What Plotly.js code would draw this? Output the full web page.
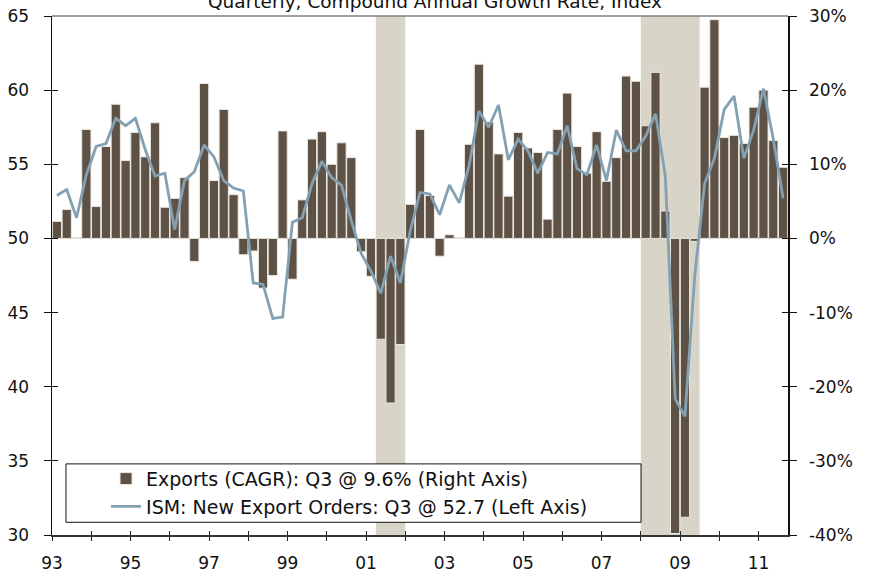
<!DOCTYPE html>
<html>
<head>
<meta charset="utf-8">
<script src="https://cdn.plot.ly/plotly-3.0.1.min.js"></script>
<style>
  html, body { margin: 0; padding: 0; background: #fff; }
  #chart { width: 870px; height: 574px; }
</style>
</head>
<body>
<div id="chart"></div>
<script>
"use strict";

// quarterly, 1993 Q1 .. 2011 Q3
const startYear = 1993;

const exportsCagr = [
    2.3, 3.9, 0.1, 14.7,
    4.3, 12.4, 18.1, 10.5,
    14.3, 11.0, 15.6, 4.2,
    5.4, 8.2, -3.1, 20.9,
    7.8, 17.4, 5.9, -2.2,
    -1.7, -6.7, -5.0, 14.5,
    -5.5, 5.2, 13.4, 14.4,
    10.0, 12.9, 10.9, -1.8,
    -5.1, -13.6, -22.2, -14.3,
    4.6, 14.7, 5.8, -2.4,
    0.5, 0.1, 12.7, 23.5,
    15.7, 11.4, 5.7, 14.3,
    12.2, 11.6, 2.6, 14.7,
    19.6, 12.4, 8.8, 14.4,
    7.7, 10.9, 21.9, 21.2,
    15.2, 22.4, 3.7, -39.8,
    -37.6, -0.4, 20.4, 29.5,
    13.6, 13.9, 12.8, 17.7,
    20.0, 13.2, 9.6
];

const ismExportOrders = [
    52.9, 53.3, 51.4, 54.3,
    56.2, 56.4, 58.1, 57.6,
    58.1, 56.0, 54.2, 54.4,
    50.6, 53.9, 54.5, 56.3,
    55.5, 53.9, 53.4, 53.2,
    47.0, 46.9, 44.6, 44.7,
    51.1, 51.4, 53.7, 55.2,
    54.1, 53.6, 51.2, 49.0,
    47.8, 46.3, 48.8, 47.0,
    50.5, 53.1, 53.0, 51.6,
    53.6, 52.4, 54.9, 58.6,
    57.5, 59.0, 55.3, 56.7,
    55.9, 54.4, 55.8, 55.7,
    57.6, 54.7, 54.3, 56.3,
    53.9, 57.3, 55.9, 55.9,
    56.9, 58.4, 54.2, 39.2,
    38.0, 47.5, 53.7, 55.4,
    58.7, 59.6, 55.4, 57.3,
    60.1, 56.7, 52.7
];

// recessions, as fractional years
const recessions = [[2001.25, 2002.0], [2008.0, 2009.5]];

const yearTicks = [];
const yearLabels = [];
for (let y = 1993; y <= 2011; y++) {
    yearTicks.push(y);
    yearLabels.push(y % 2 === 1 ? String(y).slice(2) : "");
}

const leftTicks = [30, 35, 40, 45, 50, 55, 60, 65];
const rightTicks = [-40, -30, -20, -10, 0, 10, 20, 30];
const rightLabels = rightTicks.map(v => v + "%");

function main() {
    let quarters = exportsCagr.map((_, i) => startYear + (i + 0.5) / 4);
    let xRange = [startYear, 2011.75];
    let font = "DejaVu Sans, Verdana, sans-serif";

    let bars = {
        x: quarters,
        y: exportsCagr,
        name: "Exports (CAGR): Q3 @ 9.6% (Right Axis)",
        type: "bar",
        yaxis: "y",
        marker: {color: "#5e5246", line: {color: "#ece8e0", width: 1}},
        hoverinfo: "x+y"
    };
    let ism = {
        x: quarters,
        y: ismExportOrders,
        name: "ISM: New Export Orders: Q3 @ 52.7 (Left Axis)",
        type: "scatter",
        mode: "lines",
        yaxis: "y2",
        line: {color: "#83a1b3", width: 2.8}
    };
    // empty traces just to carry the inner half of the crossing ticks
    let tickR = {x: [], y: [], yaxis: "y3", showlegend: false, hoverinfo: "skip", type: "scatter"};
    let tickL = {x: [], y: [], yaxis: "y4", showlegend: false, hoverinfo: "skip", type: "scatter"};
    let tickX = {x: [], y: [], xaxis: "x2", showlegend: false, hoverinfo: "skip", type: "scatter"};

    let shapes = recessions.map(r => ({
        type: "rect", xref: "x", yref: "paper",
        x0: r[0], x1: r[1], y0: 0, y1: 1,
        fillcolor: "#d8d4c8", line: {width: 0}, layer: "below"
    }));
    shapes.push({
        type: "line", xref: "paper", yref: "paper",
        x0: 0, x1: 1, y0: 1, y1: 1,
        line: {color: "#808080", width: 1.5}
    });
    // legend frame, wider than plotly's own box
    shapes.push({
        type: "rect", xref: "paper", yref: "paper",
        x0: 0.019, x1: 0.8003, y0: 0.0245, y1: 0.137,
        fillcolor: "#fff", line: {color: "#111", width: 1}, layer: "above"
    });

    let layout = {
        width: 870,
        height: 574,
        margin: {l: 52, r: 82, t: 16, b: 39},
        paper_bgcolor: "#fff",
        plot_bgcolor: "#fff",
        font: {family: font, size: 17, color: "#111"},
        showlegend: true,
        bargap: 0.06,
        title: {
            text: "Quarterly, Compound Annual Growth Rate, Index",
            font: {family: font, size: 18.5, color: "#111"},
            xref: "container", x: 0.5, xanchor: "center",
            yref: "container", y: 0.997, yanchor: "middle"
        },
        xaxis: {
            range: xRange,
            tickvals: yearTicks,
            ticktext: yearLabels,
            ticks: "outside", ticklen: 4, tickcolor: "#222", tickwidth: 1,
            showline: true, linecolor: "#333", linewidth: 1.5,
            showgrid: false, zeroline: false,
            ticklabelstandoff: 8
        },
        xaxis2: {
            range: xRange, overlaying: "x",
            tickvals: yearTicks,
            ticks: "inside", ticklen: 4, tickcolor: "#222",
            showticklabels: false, showline: false, showgrid: false, zeroline: false
        },
        yaxis: {
            range: [-40, 30], side: "right",
            tickvals: rightTicks, ticktext: rightLabels,
            ticks: "outside", ticklen: 7, tickcolor: "#111",
            showline: true, linecolor: "#111", linewidth: 1.5,
            showgrid: false,
            zeroline: true, zerolinecolor: "#666", zerolinewidth: 1.5,
            ticklabelstandoff: 9
        },
        yaxis2: {
            range: [30, 65], side: "left", overlaying: "y",
            tickvals: leftTicks,
            ticks: "outside", ticklen: 7, tickcolor: "#111",
            showline: true, linecolor: "#111", linewidth: 1.5,
            showgrid: false, zeroline: false,
            ticklabelstandoff: 11
        },
        yaxis3: {
            range: [-40, 30], side: "right", overlaying: "y",
            tickvals: rightTicks,
            ticks: "inside", ticklen: 6, tickcolor: "#111",
            showticklabels: false, showline: false, showgrid: false, zeroline: false
        },
        yaxis4: {
            range: [30, 65], side: "left", overlaying: "y",
            tickvals: leftTicks,
            ticks: "inside", ticklen: 6, tickcolor: "#111",
            showticklabels: false, showline: false, showgrid: false, zeroline: false
        },
        legend: {
            x: 0.0734, xanchor: "left",
            y: 0.145, yanchor: "top",
            bgcolor: "rgba(0,0,0,0)",
            borderwidth: 0,
            font: {family: font, size: 19, color: "#111"},
            itemwidth: 30,
            tracegroupgap: 0
        },
        shapes: shapes
    };

    Plotly.newPlot("chart", [bars, tickR, tickL, tickX, ism], layout,
        {staticPlot: true, displayModeBar: false});
}

document.addEventListener("DOMContentLoaded", event => main());
</script>
</body>
</html>
